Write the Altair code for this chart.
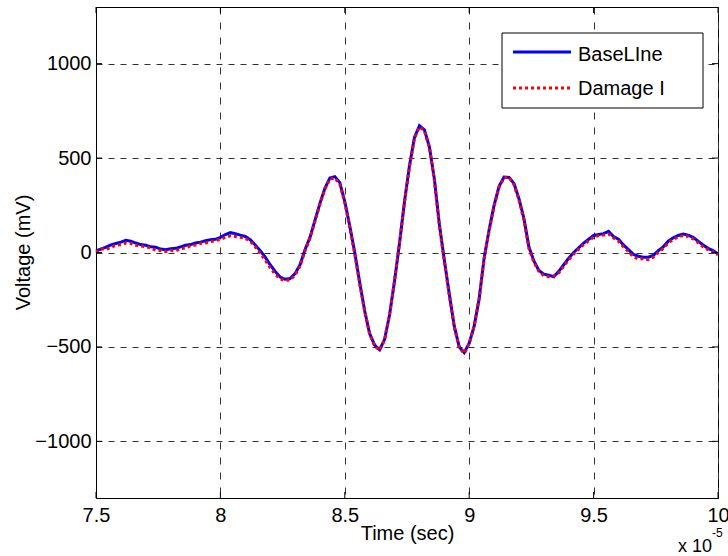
import altair as alt
import pandas as pd

# ---- data (time in units of 1e-5 s, voltage in mV) ----
time_e5 = [
    7.50, 7.52, 7.54, 7.56, 7.58, 7.60, 7.62, 7.64, 7.66, 7.68,
    7.70, 7.72, 7.74, 7.76, 7.78, 7.80, 7.82, 7.84, 7.86, 7.88,
    7.90, 7.92, 7.94, 7.96, 7.98, 8.00, 8.02, 8.04, 8.06, 8.08,
    8.10, 8.12, 8.14, 8.16, 8.18, 8.20, 8.22, 8.24, 8.26, 8.28,
    8.30, 8.32, 8.34, 8.36, 8.38, 8.40, 8.42, 8.44, 8.46, 8.48,
    8.50, 8.52, 8.54, 8.56, 8.58, 8.60, 8.62, 8.64, 8.66, 8.68,
    8.70, 8.72, 8.74, 8.76, 8.78, 8.80, 8.82, 8.84, 8.86, 8.88,
    8.90, 8.92, 8.94, 8.96, 8.98, 9.00, 9.02, 9.04, 9.06, 9.08,
    9.10, 9.12, 9.14, 9.16, 9.18, 9.20, 9.22, 9.24, 9.26, 9.28,
    9.30, 9.32, 9.34, 9.36, 9.38, 9.40, 9.42, 9.44, 9.46, 9.48,
    9.50, 9.52, 9.54, 9.56, 9.58, 9.60, 9.62, 9.64, 9.66, 9.68,
    9.70, 9.72, 9.74, 9.76, 9.78, 9.80, 9.82, 9.84, 9.86, 9.88,
    9.90, 9.92, 9.94, 9.96, 9.98, 10.00,
]
baseline_mv = [
    10, 18, 28, 40, 48, 55, 65, 60, 50, 42,
    38, 30, 28, 18, 15, 20, 22, 30, 38, 42,
    50, 55, 62, 68, 70, 80, 95, 105, 100, 92,
    85, 68, 40, 10, -25, -65, -100, -130, -142, -138,
    -112, -65, 15, 80, 170, 260, 340, 395, 402, 370,
    270, 140, 0, -160, -310, -430, -490, -515, -460, -330,
    -150, 50, 270, 460, 610, 672, 650, 560, 390, 150,
    -40, -220, -390, -500, -530, -480, -390, -245, -30, 120,
    250, 350, 400, 398, 365, 285, 180, 30, -45, -95,
    -115, -120, -128, -100, -65, -30, 0, 25, 50, 70,
    90, 95, 100, 112, 85, 70, 40, 15, -10, -20,
    -25, -25, -15, 10, 30, 60, 78, 90, 98, 92,
    80, 60, 40, 22, 10, -8,
]
damage_mv = [
    2, 20, 15, 28, 38, 42, 50, 48, 38, 35,
    30, 25, 12, 10, 5, 10, 8, 20, 25, 35,
    40, 48, 50, 58, 62, 70, 80, 88, 85, 80,
    75, 60, 30, -5, -40, -80, -115, -140, -148, -145,
    -120, -72, 8, 75, 165, 255, 335, 390, 395, 362,
    262, 132, -8, -165, -312, -432, -495, -518, -462, -328,
    -148, 52, 268, 455, 605, 665, 645, 555, 382, 142,
    -48, -228, -395, -505, -535, -482, -388, -242, -35, 115,
    245, 345, 395, 400, 360, 278, 172, 22, -52, -100,
    -122, -128, -125, -108, -72, -38, -8, 18, 42, 62,
    82, 90, 92, 98, 78, 60, 30, 5, -22, -35,
    -32, -38, -25, 0, 22, 50, 70, 82, 90, 85,
    72, 52, 30, 15, 2, -12,
]
x_ticks = [7.5, 8, 8.5, 9, 9.5, 10]
y_ticks = [-1000, -500, 0, 500, 1000]
legend_labels = ["BaseLIne", "Damage I"]
x_title = "Time (sec)"
y_title = "Voltage (mV)"
exponent_base = "x 10"
exponent_power = "-5"

# ---- styling ----
FONT = "Liberation Sans"
FS = 20
W, H = 622, 491
BLUE = "#0000ff"
RED = "#ff0000"

xscale = alt.Scale(domain=[7.5, 10], nice=False, zero=False)
yscale = alt.Scale(domain=[-1300, 1300], nice=False, zero=False)

x_axis = alt.Axis(
    values=x_ticks, format="~g", title=x_title,
    grid=True, gridDash=[7, 8], gridColor="#333333", gridWidth=1,
    ticks=False, tickSize=0,
    domain=True, domainColor="black", domainWidth=1,
    labelFont=FONT, labelFontSize=FS, labelColor="black",
    labelBaseline="alphabetic", labelPadding=23,
    labelFlush=False, labelOverlap=False,
    titleFont=FONT, titleFontSize=FS, titleFontWeight="normal", titleColor="black",
    titleX=311, titleY=41, titleBaseline="alphabetic", titleAlign="center",
)
y_axis = alt.Axis(
    values=y_ticks, format="d", title=y_title,
    grid=True, gridDash=[6, 6], gridColor="#333333", gridWidth=1,
    ticks=False, tickSize=0,
    domain=True, domainColor="black", domainWidth=1,
    labelFont=FONT, labelFontSize=FS, labelColor="black",
    labelPadding=5, labelOverlap=False, labelFlush=False,
    titleFont=FONT, titleFontSize=FS, titleFontWeight="normal", titleColor="black",
    titleAngle=270, titleX=-67, titleY=245, titleBaseline="alphabetic", titleAlign="center",
)

X = alt.X("t:Q", scale=xscale, axis=x_axis)
Y = alt.Y("v:Q", scale=yscale, axis=y_axis)

base_df = pd.DataFrame({"t": time_e5, "v": baseline_mv})
dmg_df = pd.DataFrame({"t": time_e5, "v": damage_mv})

blue = alt.Chart(base_df).mark_line(color=BLUE, strokeWidth=3).encode(x=X, y=Y)
red = alt.Chart(dmg_df).mark_line(color=RED, strokeWidth=3, strokeDash=[3, 3]).encode(x=X, y=Y)

# inward ticks (MATLAB style) on all four sides
xt_df = pd.DataFrame({"t": x_ticks})
yt_df = pd.DataFrame({"v": y_ticks})
TL = 6
tick_bottom = alt.Chart(xt_df).mark_rule(color="black", strokeWidth=1).encode(
    x=X, y=alt.value(H), y2=alt.value(H - TL))
tick_top = alt.Chart(xt_df).mark_rule(color="black", strokeWidth=1).encode(
    x=X, y=alt.value(0), y2=alt.value(TL))
tick_left = alt.Chart(yt_df).mark_rule(color="black", strokeWidth=1).encode(
    y=Y, x=alt.value(0), x2=alt.value(TL))
tick_right = alt.Chart(yt_df).mark_rule(color="black", strokeWidth=1).encode(
    y=Y, x=alt.value(W), x2=alt.value(W - TL))

# legend (manual, MATLAB style box)
one = alt.Data(values=[{}])
leg_box = alt.Chart(one).mark_rect(fill="white", stroke="black", strokeWidth=1).encode(
    x=alt.value(406), x2=alt.value(607), y=alt.value(26), y2=alt.value(101))
leg_blue = alt.Chart(one).mark_rule(color=BLUE, strokeWidth=3).encode(
    x=alt.value(417), x2=alt.value(475), y=alt.value(45))
leg_red = alt.Chart(one).mark_rule(color=RED, strokeWidth=3, strokeDash=[3, 3]).encode(
    x=alt.value(417), x2=alt.value(475), y=alt.value(81))
leg_t1 = alt.Chart(alt.Data(values=[{"label": legend_labels[0]}])).mark_text(
    align="left", baseline="alphabetic", font=FONT, fontSize=FS, color="black").encode(
    x=alt.value(482), y=alt.value(54), text="label:N")
leg_t2 = alt.Chart(alt.Data(values=[{"label": legend_labels[1]}])).mark_text(
    align="left", baseline="alphabetic", font=FONT, fontSize=FS, color="black").encode(
    x=alt.value(482), y=alt.value(88), text="label:N")

# axis exponent "x 10^-5"
exp_base = alt.Chart(alt.Data(values=[{"s": exponent_base}])).mark_text(
    align="right", baseline="alphabetic", font=FONT, fontSize=18, color="black").encode(
    x=alt.value(616), y=alt.value(545), text="s:N")
exp_pow = alt.Chart(alt.Data(values=[{"s": exponent_power}])).mark_text(
    align="left", baseline="alphabetic", font=FONT, fontSize=12, color="black").encode(
    x=alt.value(616), y=alt.value(530), text="s:N")

chart = alt.layer(
    blue, red, tick_bottom, tick_top, tick_left, tick_right,
    leg_box, leg_blue, leg_red, leg_t1, leg_t2, exp_base, exp_pow,
).properties(
    width=W, height=H,
    autosize=alt.AutoSizeParams(type="none"),
    padding={"left": 96, "top": 7, "right": 10, "bottom": 58},
    background="white",
).configure_view(stroke="black", strokeWidth=1)

chart.save("out.html", embed_options={"renderer": "svg", "actions": False})
